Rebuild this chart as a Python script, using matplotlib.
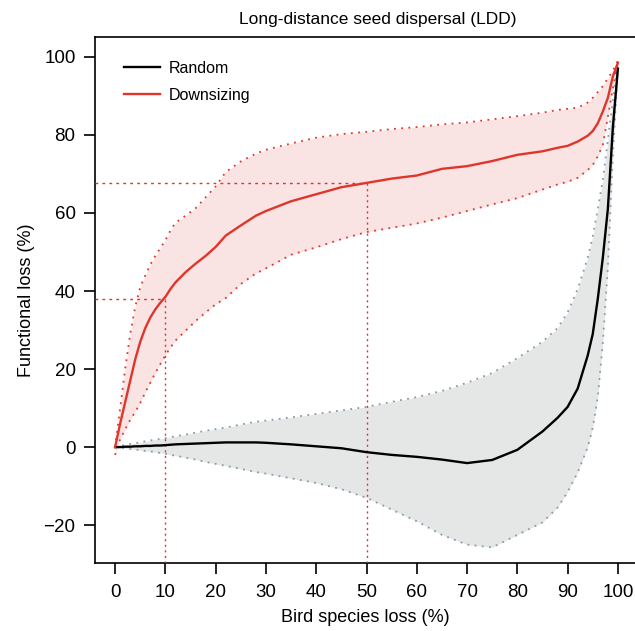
import matplotlib
matplotlib.use("Agg")
import matplotlib.pyplot as plt

plt.rcParams['font.family'] = ['Liberation Sans', 'DejaVu Sans']

# === Data ===
loss = [0, 1, 2, 3, 4, 5, 6, 7, 8, 9, 10, 11, 12, 14, 16, 18, 20, 22, 25, 28, 30, 35, 40, 45, 50,
        55, 60, 65, 70, 75, 80, 85, 88, 90, 92, 94, 95, 96, 97, 98, 99, 100]

dsz_mean = [0, 6, 11.5, 17, 22.5, 27, 30.5, 33.2, 35.3, 37, 38.5, 40.5, 42.2, 44.8, 47, 49, 51.3, 54.2, 56.8, 59.3, 60.5, 63, 64.8, 66.6, 67.7,
            68.8, 69.6, 71.3, 72, 73.3, 74.9, 75.8, 76.7, 77.2, 78.3, 79.8, 81, 83, 86, 89.5, 95, 98.5]
dsz_upper = [0, 10, 20, 29, 36, 41, 44, 46.8, 49, 51, 53, 55.5, 57.5, 59.3, 61.2, 64, 66.8, 70.5, 73.2, 75.2, 76.2, 77.8, 79.3, 80.2, 80.8,
             81.5, 82, 82.7, 83.2, 84, 84.8, 85.7, 86.4, 86.7, 87, 88.3, 89.5, 91, 92.5, 94.5, 96.5, 99]
dsz_lower = [-2, 2, 4.5, 7, 9, 11.3, 14, 16.5, 19, 21.3, 23.5, 25.5, 27.3, 29.8, 32.3, 34.5, 36.6, 38.2, 41.8, 44.5, 45.8, 49.3, 51.2, 53.3, 55.1,
             56.2, 57.3, 58.8, 60.5, 62.2, 63.8, 66, 67.3, 68, 69, 71, 72.3, 74.5, 77.5, 84.6, 92, 98.5]

rnd_mean = [0, 0, 0.1, 0.1, 0.2, 0.2, 0.3, 0.3, 0.4, 0.4, 0.5, 0.6, 0.7, 0.8, 0.9, 1, 1.1, 1.2, 1.2, 1.2, 1.1, 0.7, 0.2, -0.3, -1.3,
            -2, -2.5, -3.2, -4.1, -3.3, -0.7, 4, 7.5, 10.3, 15, 23.5, 29, 38, 48.5, 61, 82, 97]
rnd_upper = [0, 0.3, 0.5, 0.8, 1, 1.2, 1.5, 1.7, 1.9, 2.1, 2.3, 2.5, 2.8, 3.2, 3.7, 4.2, 4.6, 5, 5.8, 6.5, 6.8, 7.6, 8.5, 9.4, 10.3,
             11.6, 12.8, 14.4, 16.5, 19, 22.8, 27, 30.5, 34.5, 40.5, 48.5, 54, 61, 68.5, 78.7, 89, 98]
rnd_lower = [0, -0.2, -0.3, -0.5, -0.6, -0.8, -1, -1.1, -1.3, -1.5, -1.7, -2, -2.2, -2.7, -3.2, -3.8, -4.3, -4.8, -5.6, -6.4, -6.8, -8, -9.2, -10.8, -13,
             -16, -19, -22.5, -25, -25.7, -22.5, -19.3, -15.5, -11.5, -6.5, 0, 5, 12.8, 26.7, 46, 75, 97]

# reference points marked with dashed guides
guide_x = [10, 50]
guide_y = [37.9, 67.7]

xticks = list(range(0, 101, 10))
yticks = [-20, 0, 20, 40, 60, 80, 100]

RED = "#e0352b"
GREY_EDGE = "#8a99ad"

# === Chart ===
fig = plt.figure(figsize=(6.35, 6.31), dpi=100)
ax = fig.add_axes([0.1496, 0.1078, 0.8504, 0.8336])

ax.fill_between(loss, rnd_lower, rnd_upper, color="#e5e6e6", lw=0, zorder=1)
ax.fill_between(loss, dsz_lower, dsz_upper, color="#f9e3e3", lw=0, zorder=2)

dot = (0, (1, 3))
ax.plot(loss, rnd_upper, color=GREY_EDGE, lw=1.3, ls=dot, zorder=3)
ax.plot(loss, rnd_lower, color=GREY_EDGE, lw=1.3, ls=dot, zorder=3)
ax.plot(loss, dsz_upper, color=RED, lw=1.3, ls=dot, zorder=3)
ax.plot(loss, dsz_lower, color=RED, lw=1.3, ls=dot, zorder=3)

# guide lines
xmin, ymin = -4, -29.7
for gx, gy in zip(guide_x, guide_y):
    ax.plot([xmin, gx], [gy, gy], color=RED, lw=1.0, ls=(0, (2, 3)), zorder=4)
    ax.plot([gx, gx], [ymin, gy], color=RED, lw=1.0, ls=(0, (1.5, 2.5)), zorder=4)

ax.plot(loss, rnd_mean, color="black", lw=1.7, label="Random", zorder=5)
ax.plot(loss, dsz_mean, color=RED, lw=1.7, label="Downsizing", zorder=5)

ax.set_xlim(xmin, 103.4)
ax.set_ylim(ymin, 105.1)
ax.set_xticks(xticks)
ax.set_yticks(yticks)
ax.set_yticklabels([str(v).replace("-", "\u2212") for v in yticks])
ax.tick_params(axis="x", direction="out", length=8, width=1.2, labelsize=13.5, pad=7)
ax.tick_params(axis="y", direction="out", length=8, width=1.2, labelsize=13.5, pad=6)
for side in ["left", "bottom", "top"]:
    ax.spines[side].set_linewidth(1.2)
ax.spines["right"].set_visible(False)

ax.set_title("Long-distance seed dispersal (LDD)", fontsize=12.5, pad=9, x=0.524)
ax.set_xlabel("Bird species loss (%)", fontsize=13, labelpad=6)
ax.set_ylabel("Functional loss (%)", fontsize=13, labelpad=6)

ax.legend(loc="upper left", frameon=False, fontsize=11.5, handlelength=2.2,
          bbox_to_anchor=(0.028, 0.982), labelspacing=0.75, handletextpad=0.6)

fig.savefig("out.png", dpi=100)
